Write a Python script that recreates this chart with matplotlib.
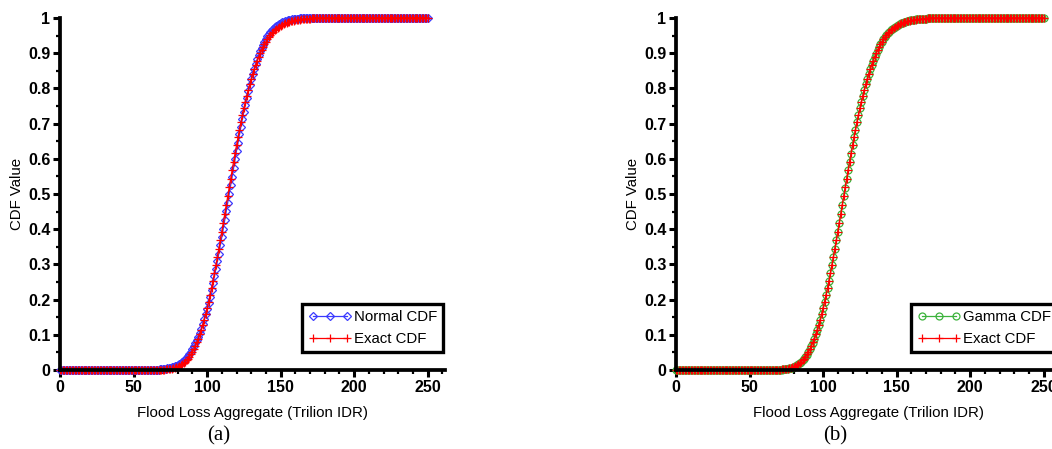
import numpy as np
import matplotlib
matplotlib.use("Agg")
import matplotlib.pyplot as plt
from matplotlib.ticker import MultipleLocator, FuncFormatter

# ---------------- data ----------------
x_values = list(range(0, 251))  # flood loss aggregate grid (Trillion IDR)

normal_mid = [  # x = 60 .. 170
    0.0003, 0.0004, 0.0005, 0.0006, 0.0007, 0.0009, 0.0011, 0.0013, 0.0017, 0.0020,
    0.0025, 0.0030, 0.0036, 0.0043, 0.0052, 0.0062, 0.0074, 0.0088, 0.0104, 0.0122,
    0.0144, 0.0168, 0.0196, 0.0228, 0.0263, 0.0304, 0.0350, 0.0401, 0.0458, 0.0521,
    0.0591, 0.0668, 0.0754, 0.0846, 0.0947, 0.1056, 0.1175, 0.1303, 0.1440, 0.1587,
    0.1743, 0.1908, 0.2083, 0.2266, 0.2459, 0.2660, 0.2869, 0.3085, 0.3309, 0.3538,
    0.3773, 0.4013, 0.4256, 0.4503, 0.4751, 0.5000, 0.5249, 0.5497, 0.5744, 0.5987,
    0.6227, 0.6462, 0.6691, 0.6915, 0.7131, 0.7340, 0.7541, 0.7734, 0.7917, 0.8092,
    0.8257, 0.8413, 0.8560, 0.8697, 0.8825, 0.8944, 0.9053, 0.9154, 0.9246, 0.9332,
    0.9409, 0.9479, 0.9542, 0.9599, 0.9650, 0.9696, 0.9737, 0.9772, 0.9804, 0.9832,
    0.9856, 0.9878, 0.9896, 0.9912, 0.9926, 0.9938, 0.9948, 0.9957, 0.9964, 0.9970,
    0.9975, 0.9980, 0.9983, 0.9987, 0.9989, 0.9991, 0.9993, 0.9994, 0.9995, 0.9996,
    0.9997,
]
exact_mid = [  # x = 60 .. 170
    0.0000, 0.0000, 0.0001, 0.0001, 0.0002, 0.0002, 0.0003, 0.0004, 0.0005, 0.0007,
    0.0009, 0.0011, 0.0015, 0.0019, 0.0024, 0.0030, 0.0038, 0.0048, 0.0060, 0.0074,
    0.0091, 0.0111, 0.0134, 0.0162, 0.0194, 0.0232, 0.0275, 0.0325, 0.0381, 0.0445,
    0.0516, 0.0596, 0.0685, 0.0783, 0.0891, 0.1010, 0.1138, 0.1277, 0.1427, 0.1587,
    0.1757, 0.1938, 0.2128, 0.2328, 0.2537, 0.2754, 0.2978, 0.3209, 0.3446, 0.3688,
    0.3933, 0.4182, 0.4433, 0.4684, 0.4935, 0.5185, 0.5433, 0.5678, 0.5918, 0.6154,
    0.6385, 0.6609, 0.6826, 0.7036, 0.7238, 0.7432, 0.7618, 0.7794, 0.7962, 0.8122,
    0.8272, 0.8413, 0.8546, 0.8671, 0.8787, 0.8895, 0.8995, 0.9089, 0.9174, 0.9254,
    0.9326, 0.9393, 0.9454, 0.9510, 0.9560, 0.9607, 0.9648, 0.9686, 0.9720, 0.9751,
    0.9779, 0.9804, 0.9826, 0.9846, 0.9864, 0.9880, 0.9894, 0.9907, 0.9918, 0.9928,
    0.9936, 0.9944, 0.9951, 0.9957, 0.9962, 0.9967, 0.9971, 0.9975, 0.9978, 0.9981,
    0.9983,
]
gamma_mid = [  # x = 60 .. 170
    0.000, 0.000, 0.000, 0.000, 0.000, 0.000, 0.000, 0.000, 0.001, 0.001,
    0.001, 0.001, 0.001, 0.002, 0.002, 0.003, 0.004, 0.005, 0.006, 0.007,
    0.009, 0.011, 0.013, 0.016, 0.019, 0.023, 0.027, 0.032, 0.038, 0.044,
    0.051, 0.059, 0.068, 0.078, 0.089, 0.101, 0.114, 0.128, 0.143, 0.159,
    0.176, 0.194, 0.213, 0.233, 0.254, 0.275, 0.298, 0.321, 0.345, 0.369,
    0.393, 0.418, 0.443, 0.468, 0.493, 0.518, 0.543, 0.568, 0.592, 0.615,
    0.638, 0.661, 0.683, 0.704, 0.724, 0.743, 0.762, 0.779, 0.796, 0.812,
    0.827, 0.841, 0.855, 0.867, 0.879, 0.889, 0.899, 0.909, 0.917, 0.925,
    0.933, 0.939, 0.945, 0.951, 0.956, 0.961, 0.965, 0.969, 0.972, 0.975,
    0.978, 0.980, 0.983, 0.985, 0.986, 0.988, 0.989, 0.991, 0.992, 0.993,
    0.994, 0.994, 0.995, 0.996, 0.996, 0.997, 0.997, 0.997, 0.998, 0.998,
    0.998,
]
normal_cdf = [0.0] * 60 + normal_mid + [1.0] * 80
exact_cdf = [0.0] * 60 + exact_mid + [1.0] * 80
gamma_cdf = [0.0] * 60 + gamma_mid + [1.0] * 80

x_label = "Flood Loss Aggregate (Trilion IDR)"
y_label = "CDF Value"
panel_labels = ["(a)", "(b)"]

# ---------------- figure ----------------
plt.rcParams['font.family'] = ['Liberation Sans', 'DejaVu Sans']
W, H = 1052, 449
fig = plt.figure(figsize=(W / 100, H / 100), dpi=100)

px_per_unit = 1.471
ax_w = 262 * px_per_unit
ax_h = 352


def make_axes(left_px):
    ax = fig.add_axes([left_px / W, (H - 370) / H, ax_w / W, ax_h / H])
    ax.set_xlim(0, 262)
    ax.set_ylim(0, 1)
    for s in ['top', 'right']:
        ax.spines[s].set_visible(False)
    for s in ['left', 'bottom']:
        ax.spines[s].set_linewidth(2.7)
    ax.xaxis.set_major_locator(MultipleLocator(50))
    ax.xaxis.set_minor_locator(MultipleLocator(10))
    ax.yaxis.set_major_locator(MultipleLocator(0.1))
    ax.yaxis.set_minor_locator(MultipleLocator(0.05))
    ax.yaxis.set_major_formatter(FuncFormatter(lambda v, p: f"{v:g}"))
    ax.tick_params(which='major', direction='out', length=5, width=2.2,
                   labelsize=11.5, pad=2)
    ax.tick_params(which='minor', direction='out', length=3, width=1.6)
    for lab in ax.get_xticklabels() + ax.get_yticklabels():
        lab.set_fontweight('bold')
    ax.set_xlabel(x_label, fontsize=10.8)
    ax.set_ylabel(y_label, fontsize=10.8)
    ax.xaxis.set_label_coords(0.5, (370 - 413) / ax_h, transform=ax.transAxes)
    ax.yaxis.set_label_coords(-43 / ax_w, 0.5, transform=ax.transAxes)
    ax.xaxis.label.set_va('center')
    ax.yaxis.label.set_va('center')
    ax.patch.set_alpha(0)
    return ax


leg_kw = dict(fontsize=10.8, numpoints=3, handlelength=2.9, handletextpad=0.15,
              borderpad=0.4, labelspacing=0.55, fancybox=False, framealpha=1,
              edgecolor='black', borderaxespad=0)

ax1 = make_axes(60)
ax1.plot(x_values, normal_cdf, color='#3a3aff', lw=0.9, marker='D', ms=3.6,
         mfc='none', mec='#3a3aff', mew=0.9, label='Normal CDF', clip_on=False)
ax1.plot(x_values, exact_cdf, color='#ff0000', lw=0.9, marker='+', ms=6,
         mew=0.9, label='Exact CDF', clip_on=False)
leg1 = ax1.legend(loc='lower right', bbox_to_anchor=(0.995, 0.05), **leg_kw)
leg1.get_frame().set_linewidth(2.4)

ax2 = make_axes(676)
ax2.plot(x_values, gamma_cdf, color='#3cb33c', lw=0.9, marker='o', ms=5,
         mfc='none', mec='#3cb33c', mew=0.9, label='Gamma CDF', clip_on=False)
ax2.plot(x_values, exact_cdf, color='#ff0000', lw=0.9, marker='+', ms=6,
         mew=0.9, label='Exact CDF', clip_on=False)
leg2 = ax2.legend(loc='lower left', bbox_to_anchor=(0.61, 0.05), **leg_kw)
leg2.get_frame().set_linewidth(2.4)

fig.text(219 / W, 1 - 436 / H, panel_labels[0], ha='center', va='center',
         fontsize=15, family='Liberation Serif')
fig.text(835 / W, 1 - 436 / H, panel_labels[1], ha='center', va='center',
         fontsize=15, family='Liberation Serif')

fig.savefig("out.png", dpi=100)
